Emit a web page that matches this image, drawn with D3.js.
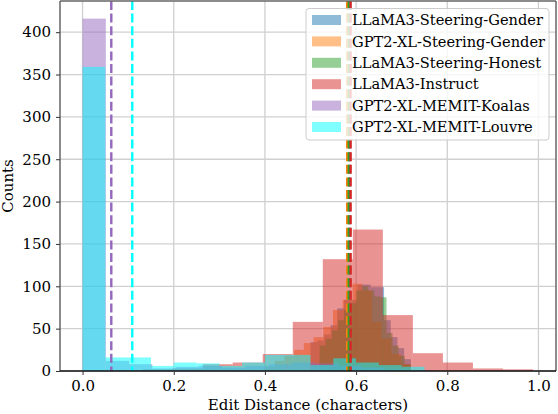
<!DOCTYPE html>
<html><head><meta charset="utf-8">
<script src="https://cdn.jsdelivr.net/npm/d3@7"></script>
<style>body{margin:0;background:#fff}svg{display:block}text{font-family:"DejaVu Serif",serif}</style>
</head><body><svg id="c" width="558" height="414"></svg>
<script>
// ---- data ----
const seriesNames = ["LLaMA3-Steering-Gender","GPT2-XL-Steering-Gender","LLaMA3-Steering-Honest","LLaMA3-Instruct","GPT2-XL-MEMIT-Koalas","GPT2-XL-MEMIT-Louvre"];
const seriesColors = ["#1f77b4","#ff7f0e","#2ca02c","#d62728","#9467bd","#00ffff"];
// bin range [lo, hi] per series (15 equal bins each)
const binRanges = [[0.50,0.72],[0.40,0.72],[0.52,0.72],[0.0,0.988],[0.0,0.765],[0.0,0.75]];
const countsSteerGender = [34,36,43,54,74,84,84,102,102,99,99,60,40,27,14];
const countsGPT2Gender  = [5,12,18,25,33,40,52,72,84,103,95,58,38,20,8];
const countsHonest      = [30,38,48,60,72,80,95,100,95,88,87,45,30,18,8];
const countsInstruct    = [0,1,2,3,8,10,20,58,132,167,66,21,10,3,2];
const countsKoalas      = [416,12,8,3,5,6,4,6,8,10,9,6,4,2,1];
const countsLouvre      = [359,16,16,6,10,9,6,10,19,19,7,15,10,7,5];
const seriesCounts = [countsSteerGender,countsGPT2Gender,countsHonest,countsInstruct,countsKoalas,countsLouvre];
const seriesMeans = [0.586,0.5805,0.584,0.588,0.063,0.109];
const xTicks = [0,0.2,0.4,0.6,0.8,1.0];
const yTicks = [0,50,100,150,200,250,300,350,400];
const xLabel = "Edit Distance (characters)";
const yLabel = "Counts";

// ---- layout ----
const svg = d3.select("#c");
const L=60,R=556,T=1,B=371;
const x = d3.scaleLinear().domain([-0.0495,1.0385]).range([L,R]);
const y = d3.scaleLinear().domain([0,436.8]).range([B,T]);
const FS=15;

// grid
const g = svg.append("g");
g.selectAll("line.gx").data(xTicks).join("line").attr("x1",d=>x(d)).attr("x2",d=>x(d)).attr("y1",T).attr("y2",B).attr("stroke","#d0d0d0").attr("stroke-width",1.3);
g.selectAll("line.gy").data(yTicks).join("line").attr("y1",d=>y(d)).attr("y2",d=>y(d)).attr("x1",L).attr("x2",R).attr("stroke","#d0d0d0").attr("stroke-width",1.3);

// histograms
seriesCounts.forEach((cnts,si)=>{
  const [lo,hi]=binRanges[si]; const n=cnts.length; const w=(hi-lo)/n;
  const bins=cnts.map((c,i)=>({x0:lo+i*w,x1:lo+(i+1)*w,c}));
  svg.append("g").selectAll("rect").data(bins.filter(b=>b.c>0)).join("rect")
    .attr("x",d=>x(d.x0)).attr("width",d=>x(d.x1)-x(d.x0))
    .attr("y",d=>y(d.c)).attr("height",d=>y(0)-y(d.c))
    .attr("fill",seriesColors[si]).attr("fill-opacity",0.5);
});
// mean lines
svg.append("g").selectAll("line").data(seriesMeans.map((m,i)=>({m,i}))).join("line")
  .attr("x1",d=>x(d.m)).attr("x2",d=>x(d.m)).attr("y1",T).attr("y2",B)
  .attr("stroke",d=>seriesColors[d.i]).attr("stroke-width",2.4).attr("stroke-dasharray","9,3.6");

// spines
svg.append("line").attr("x1",L).attr("x2",L).attr("y1",T).attr("y2",B).attr("stroke","#666").attr("stroke-width",1.5);
svg.append("line").attr("x1",R).attr("x2",R).attr("y1",T).attr("y2",B).attr("stroke","#666").attr("stroke-width",1.5);
svg.append("line").attr("x1",L).attr("x2",R).attr("y1",T).attr("y2",T).attr("stroke","#666").attr("stroke-width",1.5);
svg.append("line").attr("x1",L).attr("x2",R).attr("y1",B).attr("y2",B).attr("stroke","#111").attr("stroke-width",1.5);

// axes
const xa = svg.append("g").attr("transform",`translate(0,${B})`).call(d3.axisBottom(x).tickValues(xTicks).tickFormat(d3.format(".1f")).tickSize(4).tickPadding(5));
const ya = svg.append("g").attr("transform",`translate(${L},0)`).call(d3.axisLeft(y).tickValues(yTicks).tickSize(4).tickPadding(5));
[xa,ya].forEach(a=>{a.select(".domain").remove();a.selectAll("text").attr("font-family","DejaVu Serif").attr("font-size",FS).attr("fill","#000");a.selectAll("line").attr("stroke","#333");});

svg.append("text").attr("x",(L+R)/2).attr("y",410).attr("text-anchor","middle").attr("font-size",FS).text(xLabel);
svg.append("text").attr("transform",`translate(13,${(T+B)/2}) rotate(-90)`).attr("text-anchor","middle").attr("font-size",FS).text(yLabel);

// legend
const lg = svg.append("g");
lg.append("rect").attr("x",306).attr("y",8.5).attr("width",243).attr("height",131.5).attr("rx",3)
  .attr("fill","#fff").attr("fill-opacity",0.8).attr("stroke","#ccc");
seriesNames.forEach((nm,i)=>{
  const cy=20+i*21.4;
  lg.append("rect").attr("x",312).attr("y",cy-5).attr("width",29).attr("height",10).attr("fill",seriesColors[i]).attr("fill-opacity",0.5);
  lg.append("text").attr("x",352).attr("y",cy+5.2).attr("font-size",14.6).text(nm);
});
</script></body></html>
